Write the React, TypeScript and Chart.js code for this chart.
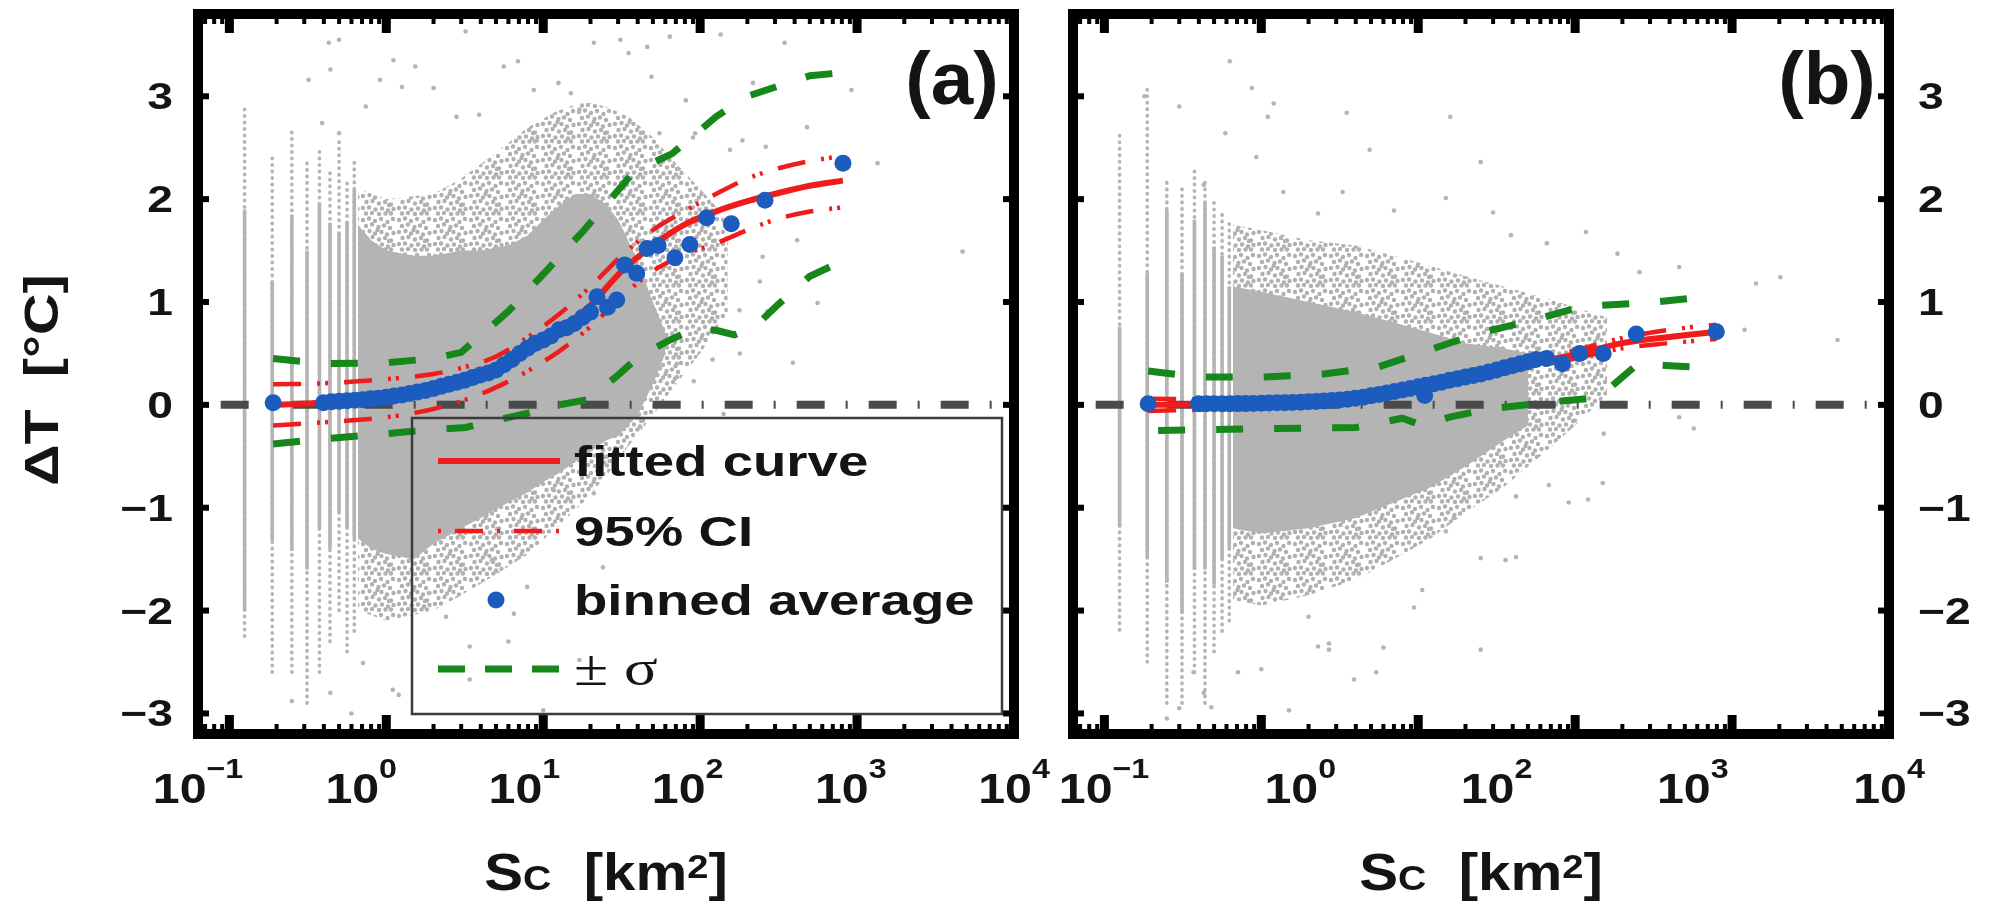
import React, { useEffect, useRef } from "react";
import { Chart, registerables } from "chart.js";

Chart.register(...registerables);

// ---------------- shared axis text ----------------
const yTickValues = [-3, -2, -1, 0, 1, 2, 3];
const yTickLabels = ["−3", "−2", "−1", "0", "1", "2", "3"];
const xTickExpA = ["−1", "0", "1", "2", "3", "4"];
const xTickExpB = ["−1", "0", "2", "3", "4"];
const legendLabels = ["fitted curve", "95% CI", "binned average", "± σ"];
const yTitle = "ΔT  [°C]";

// zero reference line
const zeroX = [0.088, 10000];
const zeroY = [0, 0];

// ---------------- panel (a) ----------------
const binAX = [0.19, 0.398, 0.447, 0.501, 0.562, 0.631, 0.708, 0.794, 0.891, 1.0, 1.12, 1.26, 1.41, 1.58, 1.78, 2.0, 2.24, 2.51, 2.82, 3.16, 3.55, 3.98, 4.47, 5.01, 5.62, 6.31, 7.08, 7.94, 8.91, 10.0, 11.2, 12.6, 14.1, 15.8, 17.8, 20.0, 22, 25.7, 29.4, 33, 39.4, 46, 54, 69, 86, 110, 158, 259, 813];
const binAY = [0.02, 0.02, 0.03, 0.035, 0.04, 0.045, 0.05, 0.06, 0.065, 0.075, 0.085, 0.095, 0.11, 0.125, 0.14, 0.16, 0.18, 0.2, 0.22, 0.24, 0.265, 0.29, 0.31, 0.34, 0.39, 0.44, 0.5, 0.55, 0.6, 0.63, 0.67, 0.73, 0.75, 0.79, 0.85, 0.9, 1.05, 0.95, 1.02, 1.36, 1.28, 1.52, 1.55, 1.43, 1.56, 1.82, 1.76, 1.99, 2.35];

const fitAX = [0.19, 0.4, 1, 2, 3.2, 5, 8, 12.6, 20, 31.6, 50, 79, 126, 200, 316, 500, 813];
const fitAY = [0.0, 0.02, 0.07, 0.15, 0.23, 0.35, 0.52, 0.72, 0.97, 1.3, 1.55, 1.75, 1.88, 1.98, 2.06, 2.13, 2.18];
const ciAHi = [0.2, 0.21, 0.25, 0.3, 0.37, 0.47, 0.66, 0.88, 1.15, 1.45, 1.7, 1.88, 2.05, 2.2, 2.3, 2.37, 2.42];
const ciALo = [-0.2, -0.17, -0.12, -0.04, 0.05, 0.17, 0.33, 0.52, 0.76, 1.05, 1.3, 1.46, 1.57, 1.7, 1.81, 1.88, 1.92];

const sigAUpX = [0.19, 0.4, 1, 2, 3, 6, 10, 18, 38, 66, 126, 200, 316, 500, 813];
const sigAUpY = [0.45, 0.4, 0.41, 0.45, 0.51, 0.91, 1.27, 1.69, 2.27, 2.44, 2.8, 3.0, 3.1, 3.2, 3.23];
const sigALoX = [0.19, 0.4, 1, 2, 3.2, 5, 8, 12.6, 19, 29, 40, 62, 95, 130, 165, 220, 316, 500, 813];
const sigALoY = [-0.38, -0.33, -0.28, -0.24, -0.22, -0.15, -0.08, 0.0, 0.05, 0.27, 0.46, 0.62, 0.75, 0.72, 0.68, 0.75, 0.98, 1.25, 1.4];

const denseAX = [0.66, 0.8, 1, 1.5, 2, 3, 4, 6, 8, 10, 13, 16, 20, 25, 30, 40, 50, 60];
const denseATop = [1.75, 1.6, 1.5, 1.45, 1.45, 1.5, 1.5, 1.55, 1.65, 1.8, 1.95, 2.05, 2.05, 1.95, 1.8, 1.4, 1.0, 0.7];
const denseABot = [-1.3, -1.4, -1.45, -1.5, -1.35, -1.2, -1.1, -0.95, -0.85, -0.75, -0.65, -0.55, -0.45, -0.35, -0.3, -0.1, 0.2, 0.5];
const speckAX = [0.66, 1, 2, 3, 5, 8, 12, 18, 25, 35, 50, 70, 100, 150];
const speckATop = [2.1, 2.0, 2.05, 2.2, 2.45, 2.7, 2.85, 2.95, 2.9, 2.8, 2.6, 2.35, 2.1, 1.8];
const speckABot = [-2.0, -2.1, -2.0, -1.85, -1.65, -1.45, -1.2, -0.95, -0.7, -0.4, -0.1, 0.2, 0.5, 0.9];

const stripeAX = [0.125, 0.1875, 0.25, 0.3125, 0.375, 0.4375, 0.5, 0.5625, 0.625];
const stripeALo = [-2.0, -1.32, -1.42, -1.6, -1.2, -1.4, -1.05, -1.2, -1.3];
const stripeAHi = [1.9, 1.2, 1.85, 1.5, 1.96, 1.77, 1.67, 1.78, 2.09];
const stripeADotLo = [-2.25, -2.6, -2.6, -2.9, -2.6, -2.3, -2.0, -2.4, -2.2];
const stripeADotHi = [2.9, 2.4, 2.7, 2.35, 2.5, 2.3, 2.6, 2.2, 2.4];

const outAX = [0.43, 0.5, 1.11, 1.53, 3.2, 5.6, 6.9, 8.7, 12.5, 15, 21, 31, 35, 46, 64, 0.32, 0.44, 0.74, 2.8, 3.9, 0.39, 0.5, 1.26, 2.0, 0.91, 9.1, 17, 49, 135, 345, 480, 55, 81, 217, 1350, 4700, 920, 415, 250, 560, 390, 178, 120, 71, 93, 155, 262, 90, 186, 240, 179, 91, 71, 50, 141, 268, 4.7, 7.9, 1.87, 2.4, 6.5, 3.4, 6.0, 3.4, 1.1, 0.71, 0.44, 0.25, 10, 17, 24, 11.7, 64, 21, 0.6, 1.2];
const outAY = [3.52, 3.55, 3.35, 3.29, 3.63, 3.29, 3.34, 3.06, 3.13, 3.03, 3.52, 3.55, 3.42, 3.48, 3.58, 3.16, 3.26, 2.9, 2.8, 2.82, 2.74, 2.64, 3.09, 3.08, 3.16, 2.57, 2.87, 3.19, 3.6, 3.52, 2.7, 2.64, 2.96, 3.13, 2.35, 1.49, 3.06, 1.6, 1.44, 0.99, 0.41, 0.92, 0.44, 0.27, 2.64, 2.48, 2.51, 2.6, 2.57, 1.2, 0.5, 0.23, 0.4, 0.88, -0.09, 0.91, -1.51, -1.77, -1.83, -2.06, -2.03, -2.35, -2.3, -2.67, -2.77, -2.51, -2.8, -2.88, -2.97, -2.48, -1.58, -0.83, -1.19, -0.86, -3.0, -2.82];

// ---------------- panel (b) ----------------
const binBX = [0.19, 0.398, 0.447, 0.501, 0.562, 0.631, 0.708, 0.794, 0.891, 1.0, 1.12, 1.26, 1.41, 1.58, 1.78, 2.0, 2.24, 2.51, 2.82, 3.16, 3.55, 3.98, 4.47, 5.01, 5.62, 6.31, 7.08, 7.94, 8.91, 10.0, 11.0, 11.2, 12.6, 14.1, 15.8, 17.8, 20.0, 22.4, 25.1, 28.2, 31.6, 35.5, 39.8, 44.7, 50.1, 56.2, 66, 83, 107, 151, 245, 794];
const binBY = [0.01, 0.01, 0.01, 0.01, 0.01, 0.01, 0.012, 0.012, 0.014, 0.015, 0.017, 0.02, 0.02, 0.022, 0.025, 0.03, 0.033, 0.037, 0.042, 0.048, 0.055, 0.065, 0.075, 0.088, 0.1, 0.115, 0.13, 0.145, 0.16, 0.175, 0.09, 0.19, 0.205, 0.22, 0.24, 0.255, 0.27, 0.285, 0.3, 0.32, 0.34, 0.36, 0.38, 0.4, 0.42, 0.44, 0.45, 0.4, 0.5, 0.5, 0.69, 0.71];

const fitBX = [0.19, 1, 3.16, 10, 31.6, 100, 200, 400, 794];
const fitBY = [0.0, 0.012, 0.045, 0.16, 0.33, 0.49, 0.6, 0.66, 0.71];
const ciBHi = [0.06, 0.05, 0.08, 0.19, 0.36, 0.53, 0.65, 0.73, 0.78];
const ciBLo = [-0.06, -0.03, 0.01, 0.13, 0.3, 0.45, 0.55, 0.6, 0.64];

const sigBUpX = [0.19, 0.4, 1, 2.5, 5.6, 12.6, 25, 56, 112, 282, 794];
const sigBUpY = [0.33, 0.27, 0.27, 0.3, 0.37, 0.55, 0.7, 0.83, 0.96, 0.99, 1.06];
const sigBLoX = [0.22, 0.5, 1.26, 4, 7.9, 10.7, 15.8, 28, 63, 141, 251, 400, 794];
const sigBLoY = [-0.25, -0.24, -0.23, -0.22, -0.13, -0.2, -0.12, -0.04, 0.02, 0.07, 0.4, 0.38, 0.36];

const denseBX = [0.66, 1, 2, 4, 7, 12, 20, 35, 50];
const denseBTop = [1.15, 1.1, 1.0, 0.9, 0.8, 0.7, 0.6, 0.55, 0.5];
const denseBBot = [-1.2, -1.25, -1.2, -1.1, -0.95, -0.8, -0.6, -0.35, -0.2];
const speckBX = [0.66, 1, 2, 4, 7, 12, 20, 35, 60, 100, 160];
const speckBTop = [1.75, 1.7, 1.6, 1.55, 1.45, 1.35, 1.25, 1.15, 1.05, 0.95, 0.85];
const speckBBot = [-1.9, -1.95, -1.85, -1.7, -1.5, -1.3, -1.05, -0.8, -0.5, -0.2, 0.1];

const stripeBX = [0.0625, 0.125, 0.1875, 0.25, 0.3125, 0.375, 0.4375, 0.5, 0.5625, 0.625];
const stripeBLo = [-1.0, -1.19, -1.48, -1.73, -2.03, -1.6, -1.6, -1.75, -1.5, -1.4];
const stripeBHi = [1.0, 0.76, 1.28, 1.89, 1.28, 1.8, 1.96, 1.54, 1.45, 1.15];
const stripeBDotLo = [-2.9, -2.19, -2.5, -2.9, -2.9, -2.6, -2.9, -2.4, -2.2, -2.1];
const stripeBDotHi = [3.0, 2.64, 3.09, 2.2, 2.1, 2.3, 2.2, 2.0, 1.9, 1.8];

const outBX = [3.5, 16, 4.9, 25, 3.3, 7, 15, 30, 117, 39, 66, 186, 460, 2030, 1420, 4700, 1200, 460, 570, 152, 257, 0.63, 0.18, 0.3, 0.87, 1.2, 0.59, 0.43, 1.38, 0.93, 2.3, 1.1, 2.3, 2.7, 6, 3.9, 5.4, 9.4, 25, 10.6, 25, 36, 42, 91, 121, 150, 68, 42, 15, 17, 2.0, 0.43, 0.48, 0.37, 0.3, 1.5, 0.25, 0.71, 1.0, 2.7];
const outBY = [2.84, 2.8, 2.48, 2.36, 2.07, 1.89, 2.01, 1.87, 1.68, 1.65, 1.57, 1.47, 1.34, 1.24, 1.18, 0.63, 0.73, -0.12, -0.23, -0.28, 1.29, 3.34, 3.0, 2.9, 3.08, 2.93, 2.64, 2.14, 2.07, 2.41, 1.86, 2.8, -2.35, -2.38, -2.36, -2.67, -2.6, -1.97, -2.38, -1.8, -1.49, -1.51, -1.48, -0.95, -0.92, -0.76, -0.78, -0.89, -1.23, -1.1, -2.06, -2.8, -2.94, -2.6, -2.95, -2.97, -3.05, -2.6, -2.57, -2.32];

// ---------------- styling ----------------
const FF = '"Liberation Sans", Helvetica, Arial, sans-serif';
const RED = "#f01c1c";
const BLUE = "#1c5cbf";
const GREEN = "#16871a";
const GRAY = "#b4b4b4";
const ZERO = "#4a4a4a";
const TXT = "#141414";
const X_MIN = 0.0630957;
const X_MAX = 10000;
const Y_MIN = -3.2;
const Y_MAX = 3.8;
// irregular dot texture used for the sparser part of the cloud (36x36 tile)
const SPECKLE_DOTS = [
  [3, 4], [9, 2.5], [15, 5], [21, 3], [27.5, 6], [33, 3], [6, 10], [12, 8.5], [18.5, 11], [24, 9.5], [30, 12],
  [3, 16], [9.5, 15], [15, 17.5], [21.5, 16], [27, 18.5], [33.5, 17], [6.5, 22], [12.5, 21], [19, 23.5],
  [25, 22], [31, 24.5], [3, 28], [9, 27.5], [15.5, 29.5], [22, 28.5], [28, 30.5], [33.5, 29], [6, 33.5],
  [12, 33], [19, 34], [25.5, 33.5], [31, 33.5], [17.5, 14], [29, 25],
];

const panelA = {
  id: "a", letter: "(a)", left: 0, width: 1070,
  padding: { left: 198, right: 56, top: 14, bottom: 186 },
  labMin: 0, labMax: 5, xExp: xTickExpA, ySide: "left", legend: true,
  binX: binAX, binY: binAY, fitX: fitAX, fitY: fitAY, ciHi: ciAHi, ciLo: ciALo,
  sigUpX: sigAUpX, sigUpY: sigAUpY, sigLoX: sigALoX, sigLoY: sigALoY,
  denseX: denseAX, denseTop: denseATop, denseBot: denseABot,
  speckX: speckAX, speckTop: speckATop, speckBot: speckABot,
  stripeX: stripeAX, stripeLo: stripeALo, stripeHi: stripeAHi, stripeDotLo: stripeADotLo, stripeDotHi: stripeADotHi,
  outX: outAX, outY: outAY,
};
const panelB = {
  id: "b", letter: "(b)", left: 1040, width: 952,
  padding: { left: 33, right: 103, top: 14, bottom: 186 },
  labMin: -0.158, labMax: 4, xExp: xTickExpB, ySide: "right", legend: false,
  binX: binBX, binY: binBY, fitX: fitBX, fitY: fitBY, ciHi: ciBHi, ciLo: ciBLo,
  sigUpX: sigBUpX, sigUpY: sigBUpY, sigLoX: sigBLoX, sigLoY: sigBLoY,
  denseX: denseBX, denseTop: denseBTop, denseBot: denseBBot,
  speckX: speckBX, speckTop: speckBTop, speckBot: speckBBot,
  stripeX: stripeBX, stripeLo: stripeBLo, stripeHi: stripeBHi, stripeDotLo: stripeBDotLo, stripeDotHi: stripeBDotHi,
  outX: outBX, outY: outBY,
};

// ---------------- helpers ----------------
function pts(xs: number[], ys: number[]) {
  return xs.map((x, i) => ({ x, y: ys[i] }));
}
function lineDS(xs: number[], ys: number[], opts: any) {
  return {
    data: pts(xs, ys),
    pointRadius: 0,
    borderWidth: 0,
    borderColor: "rgba(0,0,0,0)",
    fill: false,
    ...opts,
  };
}
function makeSpeckle(): any {
  const c = document.createElement("canvas");
  c.width = 36;
  c.height = 36;
  const g = c.getContext("2d");
  if (!g) return "rgba(180,180,180,0.55)";
  g.fillStyle = "#b0b0b0";
  SPECKLE_DOTS.forEach(([x, y]) => {
    g.beginPath();
    g.arc(x, y, 2.2, 0, Math.PI * 2);
    g.fill();
  });
  return g.createPattern(c, "repeat") || "rgba(180,180,180,0.55)";
}
function drawText(ctx: any, s: string, x: number, y: number, font: string, align: string, sx: number) {
  ctx.save();
  ctx.font = font;
  ctx.textAlign = align;
  ctx.textBaseline = "alphabetic";
  ctx.translate(x, y);
  ctx.scale(sx, 1);
  ctx.fillText(s, 0, 0);
  ctx.restore();
}
function drawPieces(ctx: any, pieces: any[], cx: number, base: number, sx: number) {
  let total = 0;
  const ws = pieces.map((pc) => {
    ctx.font = pc.font;
    const w = ctx.measureText(pc.t).width * sx;
    total += w;
    return w;
  });
  let x = cx - total / 2;
  pieces.forEach((pc, i) => {
    drawText(ctx, pc.t, x, base + (pc.dy || 0), pc.font, "left", sx);
    x += ws[i];
  });
}
function hLine(ctx: any, x0: number, x1: number, y: number, color: string, w: number, dash: number[]) {
  ctx.save();
  ctx.beginPath();
  ctx.setLineDash(dash);
  ctx.strokeStyle = color;
  ctx.lineWidth = w;
  ctx.lineCap = "butt";
  ctx.moveTo(x0, y);
  ctx.lineTo(x1, y);
  ctx.stroke();
  ctx.restore();
}

function makeDecor(p: any) {
  return {
    id: "decor" + p.id,
    afterDraw(chart: any) {
      const ctx = chart.ctx;
      const { left, right, top, bottom } = chart.chartArea;
      const xs = chart.scales.x;
      const ys = chart.scales.y;
      const xl = chart.scales.xl;
      ctx.save();
      ctx.fillStyle = "#000";
      for (let e = -2; e <= 4; e++) {
        for (let m = 1; m <= 9; m++) {
          const v = m * Math.pow(10, e);
          if (v < X_MIN || v > X_MAX * 1.0001) continue;
          const px = xs.getPixelForValue(v);
          const major = m === 1;
          const w = major ? 9 : 4;
          const len = major ? 19 : 10;
          ctx.fillRect(px - w / 2, bottom - len, w, len);
          ctx.fillRect(px - w / 2, top, w, len);
        }
      }
      yTickValues.forEach((v) => {
        const py = ys.getPixelForValue(v);
        ctx.fillRect(left, py - 3, 11, 6);
        ctx.fillRect(right - 11, py - 3, 11, 6);
      });
      ctx.strokeStyle = "#000";
      ctx.lineWidth = 10;
      ctx.setLineDash([]);
      ctx.strokeRect(left, top, right - left, bottom - top);

      ctx.fillStyle = TXT;
      const yFont = `bold 37px ${FF}`;
      yTickValues.forEach((v, i) => {
        const py = ys.getPixelForValue(v) + 13;
        if (p.ySide === "left") drawText(ctx, yTickLabels[i], left - 25, py, yFont, "right", 1.25);
        else drawText(ctx, yTickLabels[i], right + 29, py, yFont, "left", 1.25);
      });
      p.xExp.forEach((ex: string, i: number) => {
        const cx = xl.getPixelForValue(i);
        drawPieces(ctx, [
          { t: "10", font: `bold 42px ${FF}` },
          { t: ex, font: `bold 28px ${FF}`, dy: -25 },
        ], cx, 803, 1.15);
      });
      drawPieces(ctx, [
        { t: "S", font: `bold 52px ${FF}` },
        { t: "C", font: `bold 35px ${FF}` },
        { t: "  [km", font: `bold 52px ${FF}` },
        { t: "2", font: `bold 34px ${FF}`, dy: -12 },
        { t: "]", font: `bold 52px ${FF}` },
      ], (left + right) / 2, 890, 1.12);
      if (p.ySide === "left") {
        ctx.save();
        ctx.translate(58, 380);
        ctx.rotate(-Math.PI / 2);
        ctx.scale(1.2, 1);
        ctx.font = `bold 48px ${FF}`;
        ctx.textAlign = "center";
        ctx.textBaseline = "alphabetic";
        ctx.fillText(yTitle, 0, 0);
        ctx.restore();
      }
      drawText(ctx, p.letter, right - 62, 104, `bold 75px ${FF}`, "center", 1.02);

      if (p.legend) {
        const Lx = 412, Ty = 418, Rx = 1002, By = 714;
        ctx.save();
        ctx.strokeStyle = "#3c3c3c";
        ctx.lineWidth = 2.5;
        ctx.strokeRect(Lx, Ty, Rx - Lx, By - Ty);
        ctx.restore();
        const rows = [461, 531, 600, 669];
        const s0 = 438, s1 = 560, tx = 574;
        hLine(ctx, s0, s1, rows[0], RED, 6, []);
        hLine(ctx, s0, s1, rows[1], RED, 4.5, [3, 14, 28, 14]);
        ctx.save();
        ctx.fillStyle = BLUE;
        ctx.beginPath();
        ctx.arc(496, rows[2], 8.5, 0, Math.PI * 2);
        ctx.fill();
        ctx.restore();
        hLine(ctx, s0, s1, rows[3], GREEN, 7, [27, 20]);
        ctx.fillStyle = TXT;
        for (let i = 0; i < 3; i++) {
          drawText(ctx, legendLabels[i], tx, rows[i] + 15, `bold 43px ${FF}`, "left", 1.27);
        }
        drawText(ctx, legendLabels[3], tx, rows[3] + 16, `50px "Liberation Serif", "Times New Roman", serif`, "left", 1.25);
      }
      ctx.restore();
    },
  };
}

function buildConfig(p: any, speckle: any) {
  const ds: any[] = [];
  ds.push(lineDS(p.speckX, p.speckTop, { fill: "+1", backgroundColor: speckle, order: 40 }));
  ds.push(lineDS(p.speckX, p.speckBot, { order: 40 }));
  ds.push(lineDS(p.denseX, p.denseTop, { fill: "+1", backgroundColor: GRAY, order: 39 }));
  ds.push(lineDS(p.denseX, p.denseBot, { order: 39 }));
  p.stripeX.forEach((x: number, i: number) => {
    ds.push(lineDS([x, x], [p.stripeDotLo[i], p.stripeDotHi[i]], {
      borderColor: GRAY, borderWidth: 3.6, borderDash: [0.5, 6], borderCapStyle: "round", order: 38,
    }));
    ds.push(lineDS([x, x], [p.stripeLo[i], p.stripeHi[i]], {
      borderColor: GRAY, borderWidth: 3.6, order: 37,
    }));
  });
  ds.push(lineDS(p.outX, p.outY, {
    showLine: false, pointRadius: 2.3, pointBackgroundColor: GRAY, pointBorderWidth: 0, pointBorderColor: GRAY, order: 36,
  }));
  ds.push(lineDS(zeroX, zeroY, { borderColor: ZERO, borderWidth: 8, borderDash: [28, 21, 2, 21], order: 30 }));
  ds.push(lineDS(p.sigUpX, p.sigUpY, { borderColor: GREEN, borderWidth: 7, borderDash: [27, 31], order: 20 }));
  ds.push(lineDS(p.sigLoX, p.sigLoY, { borderColor: GREEN, borderWidth: 7, borderDash: [27, 31], order: 20 }));
  ds.push(lineDS(p.fitX, p.ciHi, { borderColor: RED, borderWidth: 4.5, borderDash: [28, 16, 3, 5, 3, 16], cubicInterpolationMode: "monotone", order: 10 }));
  ds.push(lineDS(p.fitX, p.ciLo, { borderColor: RED, borderWidth: 4.5, borderDash: [28, 16, 3, 5, 3, 16], cubicInterpolationMode: "monotone", order: 10 }));
  ds.push(lineDS(p.fitX, p.fitY, { borderColor: RED, borderWidth: 6, cubicInterpolationMode: "monotone", order: 5 }));
  ds.push(lineDS(p.binX, p.binY, {
    showLine: false, pointRadius: 8.5, pointBackgroundColor: BLUE, pointBorderColor: BLUE, pointBorderWidth: 0, order: 1,
  }));

  return {
    type: "line",
    data: { datasets: ds },
    options: {
      responsive: false,
      maintainAspectRatio: false,
      animation: false,
      devicePixelRatio: 1,
      events: [],
      layout: { padding: p.padding },
      plugins: { legend: { display: false }, tooltip: { enabled: false } },
      scales: {
        x: { type: "logarithmic", min: X_MIN, max: X_MAX, display: false },
        y: { type: "linear", min: Y_MIN, max: Y_MAX, display: false },
        xl: { type: "linear", axis: "x", min: p.labMin, max: p.labMax, display: false },
      },
    },
    plugins: [makeDecor(p)],
  };
}

function PanelChart({ panel }: { panel: any }) {
  const ref = useRef<HTMLCanvasElement | null>(null);
  useEffect(() => {
    const cv = ref.current;
    if (!cv) return;
    const chart = new Chart(cv, buildConfig(panel, makeSpeckle()) as any);
    return () => chart.destroy();
  }, [panel]);
  return (
    <canvas
      ref={ref}
      width={panel.width}
      height={920}
      style={{ position: "absolute", left: panel.left, top: 0, width: panel.width, height: 920 }}
    />
  );
}

export default function App() {
  return (
    <div style={{ position: "absolute", left: 0, top: 0, width: 1992, height: 920, background: "#fff", overflow: "hidden" }}>
      <PanelChart panel={panelA} />
      <PanelChart panel={panelB} />
    </div>
  );
}
